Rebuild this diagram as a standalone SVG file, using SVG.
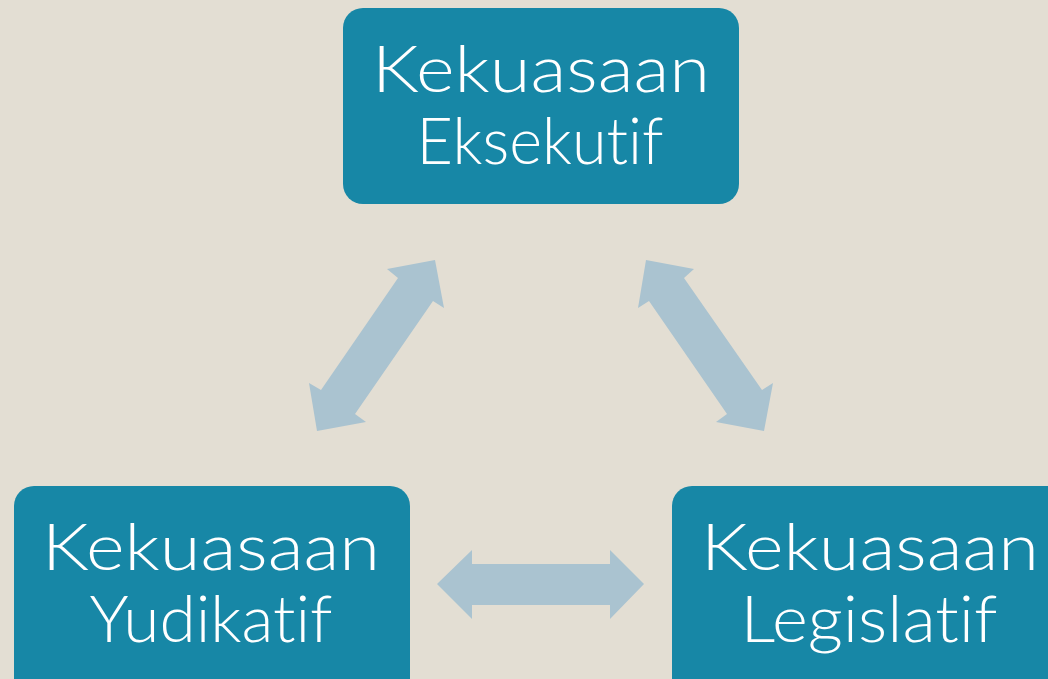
<svg xmlns="http://www.w3.org/2000/svg" width="1048" height="679" viewBox="0 0 1048 679">
<style>
.box{fill:#1787A6}
.lbl{fill:#ffffff;font-family:"Lato","Liberation Sans",sans-serif;font-weight:300;font-size:66px;text-anchor:middle;font-variant-ligatures:none;font-feature-settings:"liga" 0,"dlig" 0}
.arr{fill:#AAC3D0}
</style>
<rect width="1048" height="679" fill="#E3DED3"/>
<g id="connectors">
<polygon class="arr" points="435,260 387,269 398,278 321,390 309,383 317,431 366,422 355,414 433,301 444,308"/>
<polygon class="arr" points="646,260 694,269 684,278 762,390 773,383 764,431 716,422 727,414 649,301 638,308"/>
<polygon class="arr" points="437,584 472,550 472,564 610,564 610,550 644,584 610,619 610,605 472,605 472,619"/>
</g>
<g id="eksekutif">
<rect class="box" x="343" y="8" width="396" height="196" rx="20"/>
<text class="lbl" x="541" y="92" textLength="338" lengthAdjust="spacingAndGlyphs">Kekuasaan</text>
<text class="lbl" x="540" y="164" textLength="247" lengthAdjust="spacingAndGlyphs">Eksekutif</text>
</g>
<g id="yudikatif">
<rect class="box" x="14" y="486" width="396" height="220" rx="20"/>
<text class="lbl" x="211" y="570" textLength="338" lengthAdjust="spacingAndGlyphs">Kekuasaan</text>
<text class="lbl" x="211" y="642" textLength="243" lengthAdjust="spacingAndGlyphs">Yudikatif</text>
</g>
<g id="legislatif">
<rect class="box" x="672" y="486" width="396" height="220" rx="20"/>
<text class="lbl" x="870" y="570" textLength="338" lengthAdjust="spacingAndGlyphs">Kekuasaan</text>
<text class="lbl" x="869" y="642" textLength="257" lengthAdjust="spacingAndGlyphs">Legislatif</text>
</g>
</svg>
